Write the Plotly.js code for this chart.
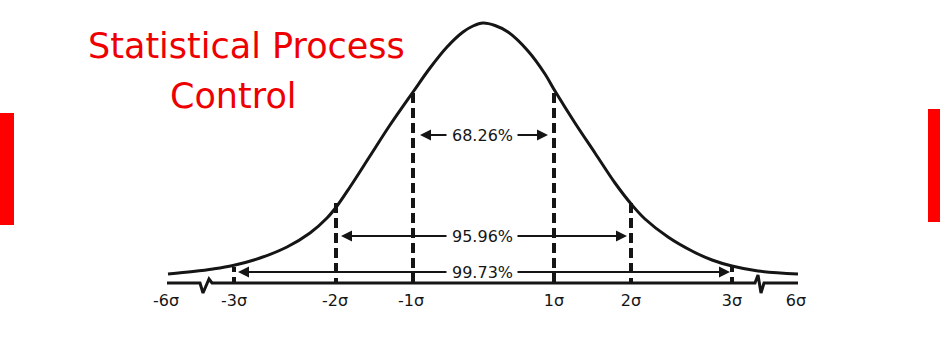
<!DOCTYPE html>
<html><head><meta charset="utf-8">
<script src="https://cdn.plot.ly/plotly-3.0.1.min.js"></script>
<style>html,body{margin:0;padding:0;background:#fff}#chart{width:940px;height:350px}</style>
</head><body><div id="chart"></div>
<script>
// Bell curve: horizontal position and height above the baseline
const curveX = [168,193,213,233,260,287,310,327,337,350,370,390,413,430,447,463,473,483,495,508,528,545,555,575,595,615,632,645,668,692,712,732,758,798];
const curveH = [9,11.5,14,17.5,25,36,50,65,77,96,127,158,191,215,236,251,257,260,257.5,251,232,209,192,160,130,100,78,64,46,32,23,17,12,9];

// axis tick labels
const sigmaLabels = ['-6σ','-3σ','-2σ','-1σ','1σ','2σ','3σ','6σ'];
const sigmaTickX = [166,234,335,411,554,631,732,796];

// dashed sigma lines
const sigmaLineX = [234,336,413,554,631,732];
const sigmaLineTop = [16,80,190,190,80,16];

// baseline with its two break marks
const baselineX = [167,200,203,209,212,755,758,761,764,798];
const baselineH = [0,0,-10,4,0,0,8,-10,0,0];

// coverage arrows
const coverageLabels = ['68.26%','95.96%','99.73%'];
const coverageH = [148,47,11];
const coverageLeft = [420,341,238];
const coverageRight = [548,627,730];
const coverageCenter = 482;

const titleLines = ['Statistical Process','Control'];

const ink = '#151515';
const traces = [];
traces.push({x:curveX, y:curveH, mode:'lines', line:{color:ink, width:3, shape:'spline', smoothing:1}, hoverinfo:'skip'});
traces.push({x:baselineX, y:baselineH, mode:'lines', line:{color:ink, width:3}, hoverinfo:'skip'});
sigmaLineX.forEach((sx,i)=>{
  traces.push({x:[sx,sx], y:[sigmaLineTop[i],0], mode:'lines',
    line:{color:ink, width:4, dash: sigmaLineTop[i] < 30 ? '5px,5px' : '10px,5px'}, hoverinfo:'skip'});
});

const annotations = [];
const gap = 34;
coverageLabels.forEach((t,i)=>{
  annotations.push({x:coverageCenter, y:coverageH[i], xref:'x', yref:'y', text:t, showarrow:false,
    font:{family:'DejaVu Sans', size:16, color:ink}, xanchor:'center', yanchor:'middle'});
  annotations.push({x:coverageLeft[i], y:coverageH[i], ax:coverageCenter-gap, ay:coverageH[i], xref:'x', yref:'y', axref:'x', ayref:'y',
    text:'', showarrow:true, arrowhead:2, arrowsize:1.1, arrowwidth:2, arrowcolor:ink, standoff:0, startstandoff:0});
  annotations.push({x:coverageRight[i], y:coverageH[i], ax:coverageCenter+gap, ay:coverageH[i], xref:'x', yref:'y', axref:'x', ayref:'y',
    text:'', showarrow:true, arrowhead:2, arrowsize:1.1, arrowwidth:2, arrowcolor:ink, standoff:0, startstandoff:0});
});
annotations.push({x:246.5, y:237, xref:'x', yref:'y', text:titleLines[0], showarrow:false,
  font:{family:'DejaVu Sans', size:35, color:'#ee0000'}, xanchor:'center', yanchor:'middle'});
annotations.push({x:233.5, y:187, xref:'x', yref:'y', text:titleLines[1], showarrow:false,
  font:{family:'DejaVu Sans', size:35, color:'#ee0000'}, xanchor:'center', yanchor:'middle'});

const layout = {
  width:940, height:350,
  margin:{l:0,r:0,t:0,b:0,pad:0},
  paper_bgcolor:'#ffffff', plot_bgcolor:'#ffffff',
  showlegend:false,
  xaxis:{range:[0,940], showgrid:false, zeroline:false, showline:false, ticks:'',
    tickmode:'array', tickvals:sigmaTickX, ticktext:sigmaLabels,
    tickfont:{family:'DejaVu Sans', size:16, color:ink}, ticklabelstandoff:6,
    anchor:'free', position:67/350, automargin:false, fixedrange:true},
  yaxis:{range:[-67,283], visible:false, fixedrange:true},
  shapes:[
    {type:'rect', xref:'x', yref:'y', x0:0, x1:14, y0:58, y1:170, fillcolor:'#ff0000', line:{width:0}},
    {type:'rect', xref:'x', yref:'y', x0:928, x1:940, y0:61, y1:174, fillcolor:'#ff0000', line:{width:0}}
  ],
  annotations:annotations
};
Plotly.newPlot('chart', traces, layout, {displayModeBar:false, staticPlot:true});
</script>
</body></html>
